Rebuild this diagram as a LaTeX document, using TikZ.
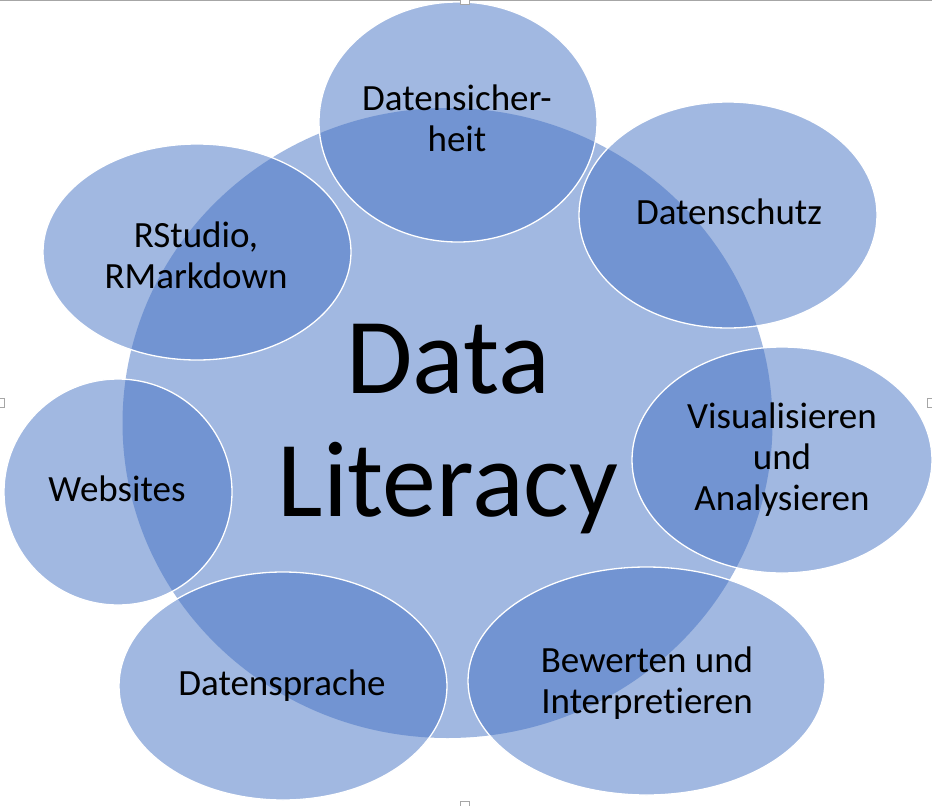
\documentclass[tikz,border=0pt]{standalone}
\usepackage{fontspec}
\setmainfont{Carlito}[Ligatures=NoCommon]
\usetikzlibrary{shapes.geometric}
\definecolor{accent}{HTML}{4472C4}
\definecolor{handlegray}{HTML}{A6A6A6}
\newcommand\mlines[2]{\vtop{\baselineskip=#1\lineskiplimit=-100pt\halign{\hfil##\hfil\cr#2\crcr}}}
\begin{document}
\begin{tikzpicture}[x=1pt,y=-1pt,
  core/.style={ellipse, inner sep=0pt, fill=accent, fill opacity=0.5},
  bubble/.style={ellipse, inner sep=0pt, fill=accent, fill opacity=0.5, draw=white, draw opacity=1, line width=1.3pt},
  lbl/.style={anchor=base, inner sep=0pt, text=black, font=\fontsize{37}{41}\selectfont},
  big/.style={anchor=base, inner sep=0pt, text=black, font=\fontsize{108}{123}\selectfont},
  handle/.style={draw=handlegray, fill=white, line width=0.8pt, minimum size=9pt, inner sep=0pt}]
\useasboundingbox (0,0) rectangle (932,806);
\fill[white] (0,0) rectangle (932,806);
% central circle
\node[core, minimum width=650pt, minimum height=630pt] (core) at (447.5,423) {};
% outer bubbles
\node[bubble, minimum width=278pt, minimum height=240pt] (sich) at (458,122) {};
\node[bubble, minimum width=298pt, minimum height=226pt] (schutz) at (728,215) {};
\node[bubble, minimum width=300pt, minimum height=226pt] (vis) at (782,460) {};
\node[bubble, minimum width=357pt, minimum height=228pt] (bew) at (646.5,681) {};
\node[bubble, minimum width=328pt, minimum height=228pt] (spr) at (283,686) {};
\node[bubble, minimum width=228pt, minimum height=226pt] (web) at (118,492) {};
\node[bubble, minimum width=308pt, minimum height=216pt] (rs) at (197,252) {};
% labels
\node[lbl] (sichT) at (457,110) {\mlines{41pt}{Datensicher-\cr heit}};
\node[lbl] (schutzT) at (729,224.3) {Datenschutz};
\node[lbl] (visT) at (782,428.3) {\mlines{41pt}{Visualisieren\cr und\cr Analysieren}};
\node[lbl] (bewT) at (647,672) {\mlines{41pt}{Bewerten und\cr Interpretieren}};
\node[lbl] (sprT) at (282,695) {Datensprache};
\node[lbl] (webT) at (117,501.7) {Websites};
\node[lbl] (rsT) at (196,247.3) {\mlines{41pt}{RStudio,\cr RMarkdown}};
\node[big] (coreT) at (448,393.3) {\mlines{123.4pt}{Data\cr Literacy}};
% frame handles
\draw[handlegray, line width=0.8pt] (0,0.4) -- (932,0.4);
\node[handle] (hTop) at (465,0) {};
\node[handle] (hLeft) at (0,403) {};
\node[handle] (hRight) at (932,403) {};
\node[handle] (hBottom) at (465,806) {};
\end{tikzpicture}
\end{document}
